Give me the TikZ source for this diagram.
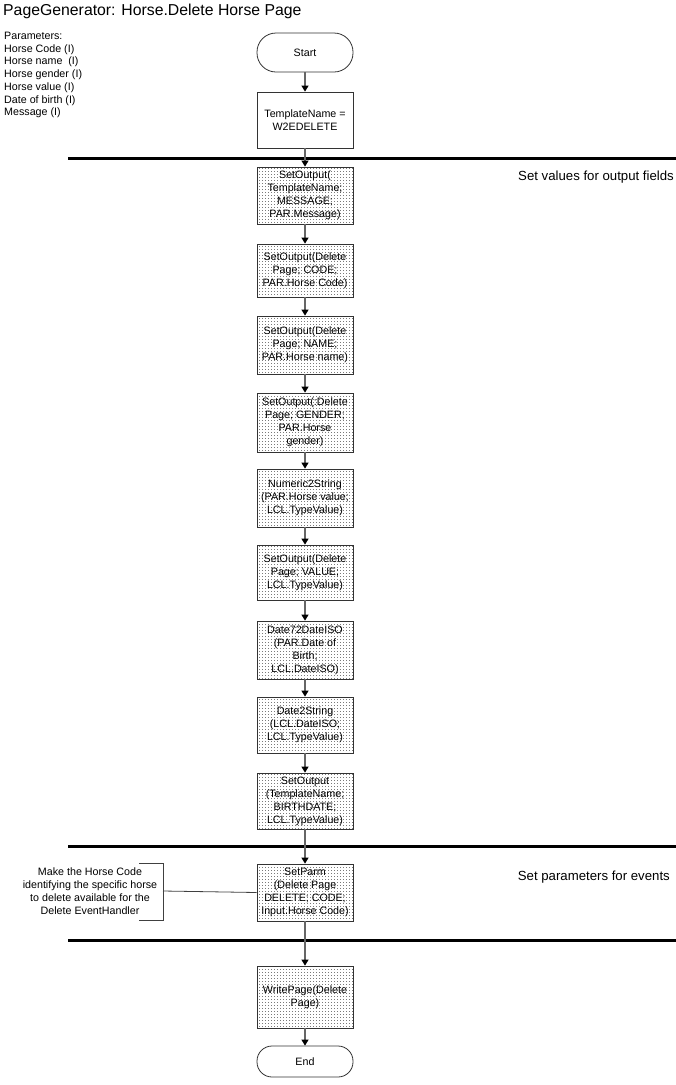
\documentclass[tikz,border=0pt]{standalone}
\usepackage{fontspec}
\setmainfont{Liberation Sans}
\usetikzlibrary{arrows.meta,patterns}
\pgfdeclarepatternformonly{vdots}{\pgfpoint{-0.5pt}{-0.5pt}}{\pgfpoint{3.5pt}{3.5pt}}{\pgfpoint{3pt}{3pt}}{\pgfpathcircle{\pgfpoint{1.5pt}{1.5pt}}{0.42pt}\pgfusepath{fill}}
\begin{document}
\begin{tikzpicture}[x=1pt,y=-1pt,
  every node/.style={font=\fontsize{10.7}{13}\selectfont, inner sep=0pt},
  proc/.style={draw=black!80, line width=0.8pt, minimum width=96pt, align=center, pattern=vdots, pattern color=black!80},
  plain/.style={draw=black!80, line width=0.8pt, minimum width=96pt, align=center, fill=white},
  term/.style={draw=black!80, line width=0.8pt, minimum width=96pt, align=center, rounded corners=#1},
  flow/.style={draw=black!60, line width=1.2pt, -{Triangle[length=6pt,width=7pt,fill=black,color=black]}},
  sepline/.style={draw=black, line width=3pt},
  note/.style={draw=black!75, line width=0.8pt},
  big/.style={font=\fontsize{15.8}{18}\selectfont},
  side/.style={font=\fontsize{13.2}{15}\selectfont}]
\useasboundingbox (0,0) rectangle (676,1085);
% texts
\node[big, anchor=west] (title) at (3,11) {PageGenerator: Horse.Delete Horse Page};
\node[anchor=north west, align=left, font=\fontsize{10.7}{12.7}\selectfont] (params) at (4,32)
  {Parameters:\\Horse Code (I)\\Horse name\ \ (I)\\Horse gender (I)\\Horse value (I)\\Date of birth (I)\\Message (I)};
\node[side, anchor=east] (lab1) at (674,177) {Set values for output fields};
\node[side, anchor=east] (lab2) at (670,877) {Set parameters for events};
% separator lines
\coordinate (l1a) at (68,158); \coordinate (l1b) at (676,158);
\coordinate (l2a) at (68,846); \coordinate (l2b) at (676,846);
\coordinate (l3a) at (68,940); \coordinate (l3b) at (676,940);
\draw[sepline] (l1a) -- (l1b);
\draw[sepline] (l2a) -- (l2b);
\draw[sepline] (l3a) -- (l3b);
% nodes
\node[term=19pt, minimum height=39pt] (start) at (305,52.5) {Start};
\node[plain, minimum height=56pt] (tn) at (305,120) {TemplateName =\\W2EDELETE};
\node[proc, minimum height=57pt] (b1) at (305,195.5) {SetOutput(\\TemplateName;\\MESSAGE;\\PAR.Message)};
\node[proc, minimum height=53pt] (b2) at (305,270.5) {SetOutput(Delete\\Page; CODE;\\PAR.Horse Code)};
\node[proc, minimum height=58pt] (b3) at (305,345) {SetOutput(Delete\\Page; NAME;\\PAR.Horse name)};
\node[proc, minimum height=59pt] (b4) at (305,422.5) {SetOutput(:Delete\\Page; GENDER;\\PAR.Horse\\gender)};
\node[proc, minimum height=58pt] (b5) at (305,498) {Numeric2String\\(PAR.Horse value;\\LCL.TypeValue)};
\node[proc, minimum height=55pt] (b6) at (305,572.5) {SetOutput(Delete\\Page; VALUE;\\LCL.TypeValue)};
\node[proc, minimum height=58pt] (b7) at (305,650) {Date72DateISO\\(PAR.Date of\\Birth;\\LCL.DateISO)};
\node[proc, minimum height=56pt] (b8) at (305,725) {Date2String\\(LCL.DateISO;\\LCL.TypeValue)};
\node[proc, minimum height=56pt] (b9) at (305,801) {SetOutput\\(TemplateName;\\BIRTHDATE;\\LCL.TypeValue)};
\node[proc, minimum height=57pt] (b10) at (305,892.5) {SetParm\\(Delete Page\\DELETE; CODE;\\Input.Horse Code)};
\node[proc, minimum height=62pt] (b11) at (305,997) {WritePage(Delete\\Page)};
\node[term=15pt, minimum height=31pt] (end) at (305,1061.5) {End};
% connectors
\foreach \a/\b in {start/tn, tn/b1, b1/b2, b2/b3, b3/b4, b4/b5, b5/b6, b6/b7, b7/b8, b8/b9, b9/b10, b10/b11, b11/end}
  \draw[flow] (\a) -- (\b);
% annotation
\node[align=center] (ann) at (90,891) {Make the Horse Code\\identifying the specific horse\\to delete available for the\\Delete EventHandler};
\coordinate (br1) at (139,863); \coordinate (br2) at (163,863);
\coordinate (br3) at (163,920); \coordinate (br4) at (139,920);
\coordinate (brm) at (163,891);
\draw[note] (br1) -- (br2) -- (br3) -- (br4);
\draw[note] (brm) -- (b10.west);
\end{tikzpicture}
\end{document}
